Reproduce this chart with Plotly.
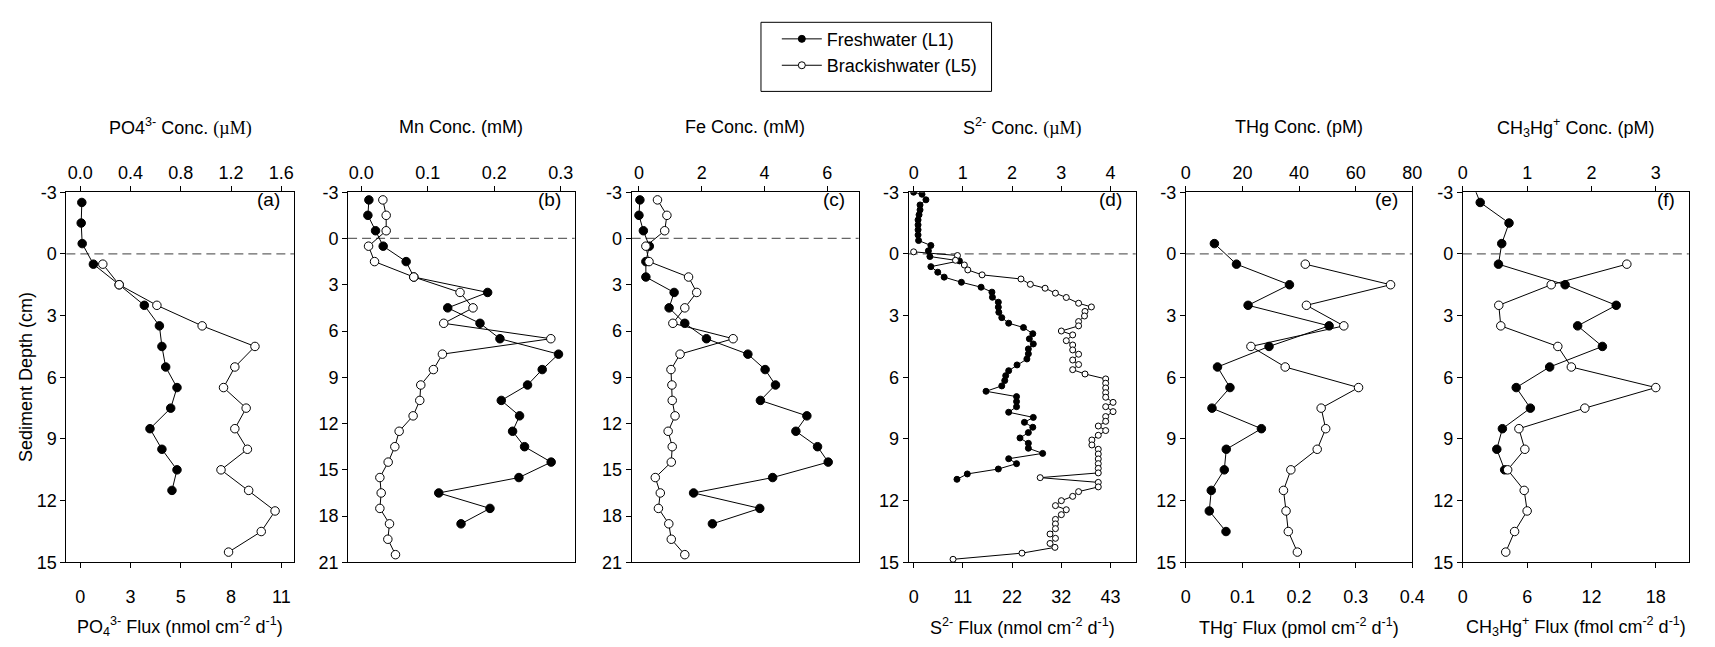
import plotly.graph_objects as go

W, H = 1715, 647

# ------------------------- DATA -------------------------
# (a) PO4 3- concentration (uM)
depth_po4_fresh = [-2.5, -1.5, -0.5, 0.5, 1.5, 2.5, 3.5, 4.5, 5.5, 6.5, 7.5, 8.5, 9.5, 10.5, 11.5]
po4_fresh = [0.013, 0.008, 0.016, 0.105, 0.31, 0.51, 0.63, 0.65, 0.68, 0.77, 0.72, 0.555, 0.65, 0.77, 0.73]
depth_po4_brack = [0.5, 1.5, 2.5, 3.5, 4.5, 5.5, 6.5, 7.5, 8.5, 9.5, 10.5, 11.5, 12.5, 13.5, 14.5]
po4_brack = [0.18, 0.31, 0.61, 0.97, 1.39, 1.23, 1.14, 1.32, 1.23, 1.33, 1.12, 1.34, 1.55, 1.44, 1.18]

# (b) Mn concentration (mM)
depth_mn_fresh = [-2.5, -1.5, -0.5, 0.5, 1.5, 2.5, 3.5, 4.5, 5.5, 6.5, 7.5, 8.5, 9.5, 10.5,
                  11.5, 12.5, 13.5, 14.5, 15.5, 16.5, 17.5, 18.5]
mn_fresh = [0.0115, 0.010, 0.0215, 0.033, 0.0675, 0.079, 0.19, 0.13, 0.1785, 0.2085, 0.2965,
            0.272, 0.25, 0.2105, 0.238, 0.2275, 0.2455, 0.2855, 0.237, 0.1165, 0.1935, 0.15]
depth_mn_brack = [-2.5, -1.5, -0.5, 0.5, 1.5, 2.5, 3.5, 4.5, 5.5, 6.5, 7.5, 8.5, 9.5, 10.5,
                  11.5, 12.5, 13.5, 14.5, 15.5, 16.5, 17.5, 18.5, 19.5, 20.5]
mn_brack = [0.0325, 0.0375, 0.0375, 0.011, 0.02, 0.079, 0.1485, 0.168, 0.124, 0.285, 0.122,
            0.1085, 0.0895, 0.088, 0.078, 0.057, 0.0505, 0.0405, 0.028, 0.03, 0.028, 0.0425,
            0.04, 0.0515]

# (c) Fe concentration (mM)
depth_fe_fresh = [-2.5, -1.5, -0.5, 0.5, 1.5, 2.5, 3.5, 4.5, 5.5, 6.5, 7.5, 8.5, 9.5, 10.5,
                  11.5, 12.5, 13.5, 14.5, 15.5, 16.5, 17.5, 18.5]
fe_fresh = [0.03, 0.0, 0.14, 0.33, 0.22, 0.22, 1.12, 0.96, 1.46, 2.15, 3.47, 4.02, 4.35, 3.87,
            5.35, 5.0, 5.69, 6.03, 4.26, 1.74, 3.85, 2.34]
depth_fe_brack = [-2.5, -1.5, -0.5, 0.5, 1.5, 2.5, 3.5, 4.5, 5.5, 6.5, 7.5, 8.5, 9.5, 10.5,
                  11.5, 12.5, 13.5, 14.5, 15.5, 16.5, 17.5, 18.5, 19.5, 20.5]
fe_brack = [0.59, 0.89, 0.82, 0.22, 0.32, 1.58, 1.84, 1.46, 1.08, 3.0, 1.31, 1.02, 1.05, 1.06,
            1.15, 0.93, 1.06, 1.03, 0.52, 0.68, 0.62, 0.95, 1.03, 1.46]

# (d) S2- concentration (uM)
depth_s_fresh = [-3.0, -2.9, -2.63, -2.38, -2.14, -1.9, -1.65, -1.41, -1.17, -0.92, -0.65, -0.41,
                 -0.15, 0.13, 0.34, 0.62, 0.89, 1.13, 1.38, 1.62, 1.86, 2.11, 2.35, 2.59, 2.84,
                 3.10, 3.37, 3.58, 3.88, 4.13, 4.38, 4.62, 4.86, 5.11, 5.40, 5.68, 5.92, 6.16,
                 6.42, 6.68, 6.94, 7.18, 7.43, 7.70, 7.95, 8.19, 8.43, 8.69, 8.95, 9.21, 9.45,
                 9.70, 9.96, 10.20, 10.46, 10.70, 10.96]
s_fresh = [0.0, 0.17, 0.25, 0.13, 0.13, 0.11, 0.09, 0.09, 0.09, 0.09, 0.10, 0.35,
           0.30, 0.33, 0.93, 0.35, 0.49, 0.62, 0.97, 1.37, 1.59, 1.60, 1.72, 1.72, 1.73,
           1.79, 1.93, 2.23, 2.42, 2.35, 2.43, 2.33, 2.33, 2.30, 2.10, 1.93, 1.87, 1.85,
           1.79, 1.47, 2.09, 2.09, 2.09, 1.93, 2.43, 2.25, 2.42, 2.33, 2.16, 2.33, 2.33,
           2.62, 1.93, 2.09, 1.72, 1.09, 0.88]
depth_s_brack = [-0.1, 0.08, 0.31, 0.54, 0.78, 1.02, 1.22, 1.48, 1.67, 1.91, 2.12, 2.40, 2.58,
                 2.80, 3.02, 3.29, 3.50, 3.75, 3.94, 4.22, 4.43, 4.67, 4.88, 5.16, 5.38, 5.63,
                 5.84, 6.08, 6.29, 6.52, 6.75, 6.97, 7.22, 7.43, 7.67, 7.91, 8.14, 8.37, 8.59,
                 8.82, 9.05, 9.29, 9.50, 9.73, 9.97, 10.20, 10.43, 10.65, 10.88, 11.11, 11.33,
                 11.56, 11.79, 12.00, 12.24, 12.44, 12.68, 12.91, 13.13, 13.36, 13.62, 13.83,
                 14.08, 14.27, 14.55, 14.85]
s_brack = [0.0, 0.89, 0.85, 1.03, 1.10, 1.39, 2.18, 2.37, 2.67, 2.88, 3.10, 3.35, 3.61,
           3.48, 3.47, 3.35, 3.35, 3.00, 3.23, 3.10, 3.23, 3.23, 3.35, 3.23, 3.35, 3.23,
           3.48, 3.90, 3.90, 3.90, 3.90, 3.90, 4.05, 3.90, 4.05, 3.90, 3.90, 3.75, 3.90,
           3.75, 3.62, 3.62, 3.75, 3.75, 3.75, 3.75, 3.75, 3.75, 2.57, 3.75, 3.75,
           3.35, 3.23, 3.00, 2.88, 3.10, 3.00, 2.88, 2.88, 2.88, 2.77, 2.88,
           2.77, 2.87, 2.20, 0.80]

# (e) THg concentration (pM)
depth_thg_fresh = [-0.5, 0.5, 1.5, 2.5, 3.5, 4.5, 5.5, 6.5, 7.5, 8.5, 9.5, 10.5, 11.5, 12.5, 13.5]
thg_fresh = [10.1, 17.9, 36.6, 22.0, 50.6, 29.4, 11.2, 15.6, 9.25, 26.7, 14.3, 13.6, 9.0, 8.3, 14.2]
depth_thg_brack = [0.5, 1.5, 2.5, 3.5, 4.5, 5.5, 6.5, 7.5, 8.5, 9.5, 10.5, 11.5, 12.5, 13.5, 14.5]
thg_brack = [42.2, 72.3, 42.6, 55.8, 23.0, 35.1, 61.0, 47.8, 49.4, 46.4, 37.1, 34.5, 35.4, 36.2, 39.4]

# (f) CH3Hg+ concentration (pM)
depth_mehg_fresh = [-3.5, -2.5, -1.5, -0.5, 0.5, 1.5, 2.5, 3.5, 4.5, 5.5, 6.5, 7.5, 8.5, 9.5, 10.5]
mehg_fresh = [0.14, 0.27, 0.718, 0.605, 0.554, 1.59, 2.385, 1.785, 2.17, 1.35, 0.83, 1.05, 0.615, 0.528, 0.65]
depth_mehg_brack = [0.5, 1.5, 2.5, 3.5, 4.5, 5.5, 6.5, 7.5, 8.5, 9.5, 10.5, 11.5, 12.5, 13.5, 14.5]
mehg_brack = [2.55, 1.374, 0.559, 0.59, 1.477, 1.687, 3.0, 1.897, 0.872, 0.964, 0.697, 0.954, 1.0, 0.805, 0.667]

# tick values / labels
depth_ticks_short = [-3, 0, 3, 6, 9, 12, 15]
depth_ticks_long = [-3, 0, 3, 6, 9, 12, 15, 18, 21]
po4_ticks = [0.0, 0.4, 0.8, 1.2, 1.6]
po4_ticktext = ["0.0", "0.4", "0.8", "1.2", "1.6"]
po4_flux_ticktext = ["0", "3", "5", "8", "11"]
mn_ticks = [0.0, 0.1, 0.2, 0.3]
mn_ticktext = ["0.0", "0.1", "0.2", "0.3"]
fe_ticks = [0, 2, 4, 6]
fe_ticktext = ["0", "2", "4", "6"]
s_ticks = [0, 1, 2, 3, 4]
s_ticktext = ["0", "1", "2", "3", "4"]
s_flux_ticktext = ["0", "11", "22", "32", "43"]
thg_ticks = [0, 20, 40, 60, 80]
thg_ticktext = ["0", "20", "40", "60", "80"]
thg_flux_ticktext = ["0", "0.1", "0.2", "0.3", "0.4"]
mehg_ticks = [0, 1, 2, 3]
mehg_ticktext = ["0", "1", "2", "3"]
mehg_flux_ticktext = ["0", "6", "12", "18"]

series_names = ["Freshwater (L1)", "Brackishwater (L5)"]

# ------------------------- LAYOUT -------------------------
FONT = "Liberation Sans, Arial, sans-serif"
SERIF = "font-family:Liberation Serif,Times New Roman,serif"
FS = 18
TOP_PX, BOT_PX = 188, 570
TOP_TITLE_PX, BOT_TITLE_PX, LETTER_PX = 121, 636, 196
ydom = [1 - BOT_PX / H, 1 - TOP_PX / H]

panels = [
    dict(fresh=(depth_po4_fresh, po4_fresh), brack=(depth_po4_brack, po4_brack),
         px=(62, 292), xr=[-0.11, 1.70], yr=[15, -3], yt=depth_ticks_short,
         tv=po4_ticks, tt=po4_ticktext, ft=po4_flux_ticktext,
         top="PO4<sup>3-</sup> Conc. <span style='%s'>(µM)</span>" % SERIF,
         bot="PO<sub>4</sub><sup>3-</sup> Flux (nmol cm<sup>-2</sup> d<sup>-1</sup>)",
         letter="(a)", ms=8.5),
    dict(fresh=(depth_mn_fresh, mn_fresh), brack=(depth_mn_brack, mn_brack),
         px=(346.7, 575.7), xr=[-0.0198, 0.3208], yr=[21, -3], yt=depth_ticks_long,
         tv=mn_ticks, tt=mn_ticktext, ft=None,
         top="Mn Conc. (mM)", bot=None, letter="(b)", ms=8.5),
    dict(fresh=(depth_fe_fresh, fe_fresh), brack=(depth_fe_brack, fe_brack),
         px=(633.3, 862.7), xr=[-0.233, 7.0], yr=[21, -3], yt=depth_ticks_long,
         tv=fe_ticks, tt=fe_ticktext, ft=None,
         top="Fe Conc. (mM)", bot=None, letter="(c)", ms=8.5),
    dict(fresh=(depth_s_fresh, s_fresh), brack=(depth_s_brack, s_brack),
         px=(913.3, 1142.7), xr=[-0.1, 4.51], yr=[15, -3], yt=depth_ticks_short,
         tv=s_ticks, tt=s_ticktext, ft=s_flux_ticktext,
         top="S<sup>2-</sup> Conc. <span style='%s'>(µM)</span>" % SERIF,
         bot="S<sup>2-</sup> Flux (nmol cm<sup>-2</sup> d<sup>-1</sup>)",
         letter="(d)", ms=6),
    dict(fresh=(depth_thg_fresh, thg_fresh), brack=(depth_thg_brack, thg_brack),
         px=(1193.3, 1422.3), xr=[0, 80], yr=[15, -3], yt=depth_ticks_short,
         tv=thg_ticks, tt=thg_ticktext, ft=thg_flux_ticktext,
         top="THg Conc. (pM)",
         bot="THg<sup>-</sup> Flux (pmol cm<sup>-2</sup> d<sup>-1</sup>)",
         letter="(e)", ms=8.5),
    dict(fresh=(depth_mehg_fresh, mehg_fresh), brack=(depth_mehg_brack, mehg_brack),
         px=(1473.3, 1701.7), xr=[0, 3.514], yr=[15, -3], yt=depth_ticks_short,
         tv=mehg_ticks, tt=mehg_ticktext, ft=mehg_flux_ticktext,
         top="CH<sub>3</sub>Hg<sup>+</sup> Conc. (pM)",
         bot="CH<sub>3</sub>Hg<sup>+</sup> Flux (fmol cm<sup>-2</sup> d<sup>-1</sup>)",
         letter="(f)", ms=8.5),
]

fig = go.Figure()
layout = dict(width=W, height=H, margin=dict(l=0, r=0, t=0, b=0),
              paper_bgcolor="white", plot_bgcolor="white",
              font=dict(family=FONT, size=FS, color="black"),
              showlegend=True, shapes=[], annotations=[])

axis_common = dict(showgrid=False, zeroline=False, showline=True, linecolor="black",
                   linewidth=1, ticks="outside", ticklen=5, tickwidth=1, tickcolor="black",
                   tickfont=dict(family=FONT, size=FS, color="black"), fixedrange=True)

extra_id = 7
for i, p in enumerate(panels, start=1):
    xk = "x" if i == 1 else "x%d" % i
    yk = "y" if i == 1 else "y%d" % i
    dom = [p["px"][0] / W, p["px"][1] / W]
    layout["xaxis" if i == 1 else "xaxis%d" % i] = dict(
        axis_common, domain=dom, anchor=yk, side="top", range=p["xr"], mirror=True,
        tickmode="array", tickvals=p["tv"], ticktext=p["tt"])
    layout["yaxis" if i == 1 else "yaxis%d" % i] = dict(
        axis_common, domain=ydom, anchor=xk, range=p["yr"], mirror=True,
        tickmode="array", tickvals=p["yt"], ticktext=[str(v) for v in p["yt"]])

    if p["ft"] is not None:
        bk = "x%d" % extra_id
        layout["xaxis%d" % extra_id] = dict(
            axis_common, overlaying=xk, anchor=yk, side="bottom", range=p["xr"],
            showline=False, tickmode="array", tickvals=p["tv"], ticktext=p["ft"],
            ticklabelstandoff=13)
        fig.add_trace(go.Scatter(x=[None], y=[None], xaxis=bk, yaxis=yk,
                                 showlegend=False, hoverinfo="skip"))
        extra_id += 1

    # dashed sediment-water interface
    layout["shapes"].append(dict(type="line", xref="%s domain" % xk, yref=yk,
                                 x0=0, x1=1, y0=0, y1=0, layer="below",
                                 line=dict(color="#666666", width=1.3, dash="9px,5px")))

    d_f, v_f = p["fresh"]
    d_b, v_b = p["brack"]
    fig.add_trace(go.Scatter(x=v_f, y=d_f, xaxis=xk, yaxis=yk, mode="lines+markers",
                             line=dict(color="black", width=1),
                             marker=dict(symbol="circle", size=p["ms"], color="black",
                                         line=dict(color="black", width=1)),
                             showlegend=False, name=series_names[0]))
    fig.add_trace(go.Scatter(x=v_b, y=d_b, xaxis=xk, yaxis=yk, mode="lines+markers",
                             line=dict(color="black", width=1),
                             marker=dict(symbol="circle", size=p["ms"], color="white",
                                         line=dict(color="black", width=1)),
                             showlegend=False, name=series_names[1]))

    cx = (p["px"][0] + p["px"][1]) / 2 / W
    layout["annotations"].append(dict(text=p["top"], xref="paper", yref="paper",
                                      x=cx, y=1 - TOP_TITLE_PX / H, xanchor="center",
                                      yanchor="middle", showarrow=False,
                                      font=dict(family=FONT, size=FS)))
    if p["bot"] is not None:
        layout["annotations"].append(dict(text=p["bot"], xref="paper", yref="paper",
                                          x=cx, y=1 - BOT_TITLE_PX / H, xanchor="center",
                                          yanchor="middle", showarrow=False,
                                          font=dict(family=FONT, size=FS)))
    layout["annotations"].append(dict(text=p["letter"], xref="paper", yref="paper",
                                      x=(p["px"][1] - 12) / W, y=1 - LETTER_PX / H,
                                      xanchor="right", yanchor="middle", showarrow=False,
                                      font=dict(family=FONT, size=FS + 1)))

layout["annotations"].append(dict(text="Sediment Depth (cm)", xref="paper", yref="paper",
                                  x=22 / W, y=1 - (TOP_PX + BOT_PX) / 2 / H, textangle=-90,
                                  xanchor="center", yanchor="middle", showarrow=False,
                                  font=dict(family=FONT, size=FS)))

# legend entries
fig.add_trace(go.Scatter(x=[None], y=[None], mode="lines+markers", name=series_names[0],
                         line=dict(color="black", width=1),
                         marker=dict(size=7, color="black", line=dict(color="black", width=1))))
fig.add_trace(go.Scatter(x=[None], y=[None], mode="lines+markers", name=series_names[1],
                         line=dict(color="black", width=1),
                         marker=dict(size=7, color="white", line=dict(color="black", width=1))))
layout["legend"] = dict(x=780 / W, y=1 - 11 / H, xanchor="left", yanchor="top",
                        bgcolor="rgba(0,0,0,0)", borderwidth=0, itemwidth=40,
                        font=dict(family=FONT, size=FS), tracegroupgap=0, itemclick=False)
layout["shapes"].append(dict(type="rect", xref="paper", yref="paper",
                             x0=764 / W, x1=997 / W, y0=1 - 84 / H, y1=1 - 12.7 / H,
                             line=dict(color="black", width=1), fillcolor="rgba(0,0,0,0)"))

fig.update_layout(**layout)
fig.write_html("out.html")
